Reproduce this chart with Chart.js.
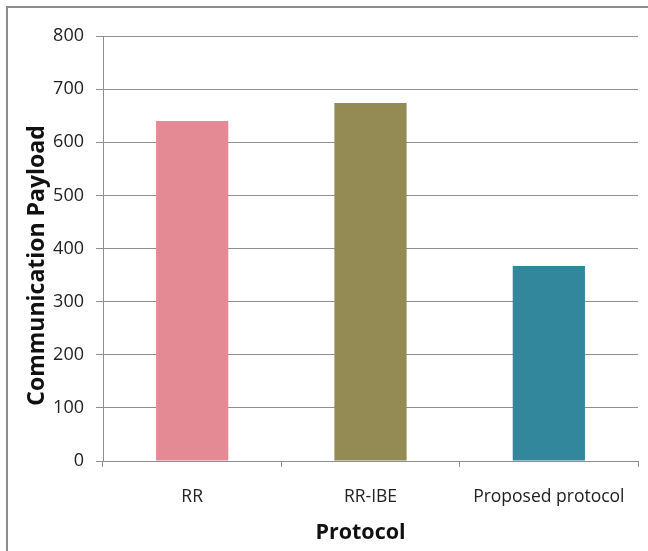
<!DOCTYPE html>
<html>
<head>
<meta charset="utf-8">
<script src="https://cdn.jsdelivr.net/npm/chart.js@4/dist/chart.umd.min.js"></script>
<style>
    html, body { margin: 0; padding: 0; background: #fff; }
    #wrap { position: relative; width: 648px; height: 551px; overflow: hidden; }
    #frame { position: absolute; left: 6px; top: 6px; width: 660px; height: 560px;
             border-left: 2px solid #8c8c8c; border-top: 2px solid #8c8c8c; }
    canvas { position: absolute; left: 0; top: 0; }
</style>
</head>
<body>
<div id="wrap">
    <div id="frame"></div>
    <canvas id="chart-canvas" width="648" height="551"></canvas>
</div>
<script>
// chart data
const protocols = ['RR', 'RR-IBE', 'Proposed protocol'];
const payload_values = [640, 674, 367];
const bar_colours = ['#e38a94', '#938a54', '#32879d'];
const y_ticks = [0, 100, 200, 300, 400, 500, 600, 700, 800];
const x_title = 'Protocol';
const y_title = 'Communication Payload';

const font_family = "'Open Sans', 'Noto Sans', sans-serif";
const grid_colour = '#8f8f8f';

// axis titles sit a little off-centre in the original, so draw them by hand
const axis_titles_plugin = {
    id: 'axis_titles',
    afterDraw(chart) {
        let c = chart.ctx;
        let area = chart.chartArea;
        c.save();
        c.fillStyle = '#111';
        c.textAlign = 'center';
        c.textBaseline = 'middle';

        c.font = "bold 21.5px " + font_family;
        c.fillText(x_title, (area.left + area.right) / 2 - 10, 533);

        c.font = "bold 23px " + font_family;
        c.translate(37, (area.top + area.bottom) / 2 + 17);
        c.rotate(-Math.PI / 2);
        c.fillText(y_title, 0, 0);
        c.restore();
    }
};

let ctx = document.getElementById('chart-canvas').getContext('2d');

new Chart(ctx, {
    type: 'bar',
    data: {
        labels: protocols,
        datasets: [{
            data: payload_values,
            backgroundColor: bar_colours,
            borderWidth: 0,
            categoryPercentage: 1.0,
            barPercentage: 0.405
        }]
    },
    options: {
        responsive: false,
        animation: false,
        layout: { padding: { top: 36, right: 10, left: 0, bottom: 0 } },
        plugins: { legend: { display: false }, tooltip: { enabled: false } },
        scales: {
            x: {
                grid: { drawOnChartArea: false, color: grid_colour, tickLength: 6, offset: true },
                border: { color: grid_colour, width: 1 },
                ticks: { color: '#222', font: { family: font_family, size: 17.5 }, padding: 20 },
                afterFit(axis) { axis.height = 90; }
            },
            y: {
                min: 0,
                max: 800,
                afterBuildTicks(axis) { axis.ticks = y_ticks.map(v => ({ value: v })); },
                grid: { color: grid_colour, tickLength: 7 },
                border: { color: grid_colour, width: 1 },
                ticks: { color: '#222', font: { family: font_family, size: 18 }, padding: 12 },
                afterFit(axis) { axis.width = 103; }
            }
        }
    },
    plugins: [axis_titles_plugin]
});
</script>
</body>
</html>
